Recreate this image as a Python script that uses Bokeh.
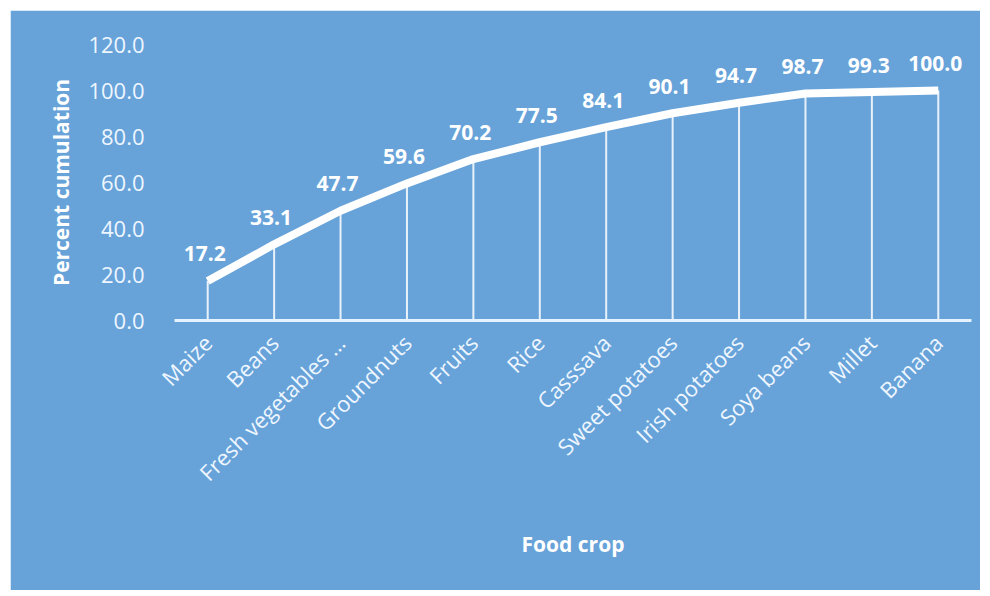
import math
from bokeh.plotting import figure
from bokeh.models import ColumnDataSource, LabelSet, FactorRange, Range1d, CustomJSTickFormatter
from bokeh.core.properties import value
from bokeh.embed import file_html
from bokeh.resources import INLINE

crops = ["Maize", "Beans", "Fresh vegetables …", "Groundnuts", "Fruits", "Rice",
         "Casssava", "Sweet potatoes", "Irish potatoes", "Soya beans", "Millet", "Banana"]
cumulative = [17.2, 33.1, 47.7, 59.6, 70.2, 77.5, 84.1, 90.1, 94.7, 98.7, 99.3, 100.0]
labels = ["17.2", "33.1", "47.7", "59.6", "70.2", "77.5", "84.1", "90.1", "94.7", "98.7", "99.3", "100.0"]
y_ticks = [0, 20, 40, 60, 80, 100, 120]

BG = "#67A3D9"
FONT = "Open Sans"

src = ColumnDataSource(dict(x=crops, y=cumulative, base=[0] * len(crops), lab=labels))

p = figure(width=970, height=580, x_range=FactorRange(*crops), y_range=Range1d(0, 120),
           output_backend="svg", toolbar_location=None, margin=(10, 0, 0, 10),
           min_border_left=164, min_border_right=9, min_border_top=34, min_border_bottom=270)
p.background_fill_color = BG
p.border_fill_color = BG
p.outline_line_color = BG
p.outline_line_width = 2
p.grid.visible = False

p.segment(x0="x", y0="base", x1="x", y1="y", source=src, line_color="white",
          line_alpha=0.85, line_width=2)
p.line(x="x", y="y", source=src, line_color="white", line_width=8, line_join="round")

ls = LabelSet(x="x", y="y", text="lab", source=src, text_color="white",
              text_font=value(FONT), text_font_style="bold", text_font_size="21px",
              text_align="center", text_baseline="middle", x_offset=-3, y_offset=27)
p.add_layout(ls)

# y axis
ya = p.yaxis[0]
ya.ticker = y_ticks
ya.formatter = CustomJSTickFormatter(code="return tick.toFixed(1);")
ya.axis_line_color = None
ya.major_tick_line_color = None
ya.minor_tick_line_color = None
ya.major_label_standoff = 24
ya.major_label_text_color = "#EEF6FF"
ya.major_label_text_font = FONT
ya.major_label_text_font_size = "22px"
ya.axis_label = "Percent cumulation"
ya.axis_label_text_color = "white"
ya.axis_label_text_font = FONT
ya.axis_label_text_font_style = "bold"
ya.axis_label_text_font_size = "21px"
ya.axis_label_standoff = 10

# x axis
xa = p.xaxis[0]
xa.axis_line_color = "#E4F3FF"
xa.axis_line_width = 3
xa.major_tick_line_color = None
xa.minor_tick_line_color = None
xa.major_label_orientation = math.pi / 4
xa.major_label_standoff = 12
xa.major_label_text_color = "#EEF6FF"
xa.major_label_text_font = FONT
xa.major_label_text_font_size = "22px"
xa.axis_label = "Food crop"
xa.axis_label_text_color = "white"
xa.axis_label_text_font = FONT
xa.axis_label_text_font_style = "bold"
xa.axis_label_text_font_size = "21px"
xa.axis_label_standoff = 30

open("out.html", "w").write(file_html(p, INLINE))
